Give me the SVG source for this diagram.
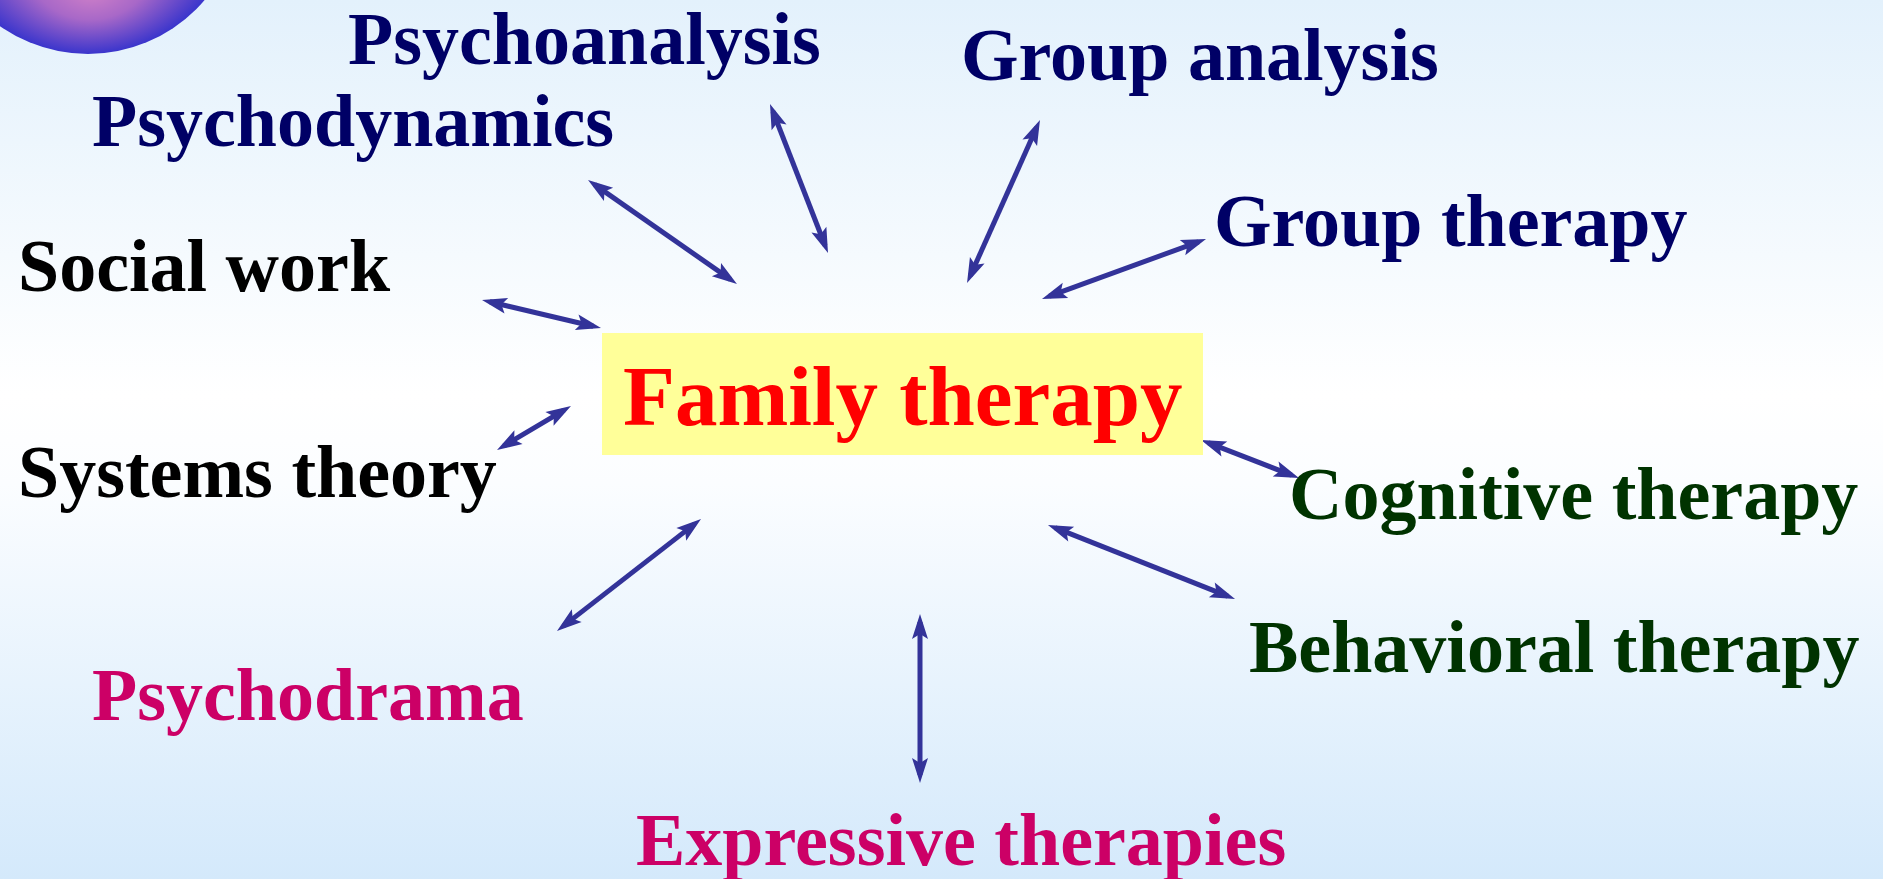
<svg xmlns="http://www.w3.org/2000/svg" width="1883" height="879" viewBox="0 0 1883 879">
  <defs>
    <linearGradient id="bg" x1="0" y1="0" x2="0" y2="1">
      <stop offset="0" stop-color="#E3F1FC"/>
      <stop offset="0.45" stop-color="#FFFFFF"/>
      <stop offset="0.55" stop-color="#FBFDFF"/>
      <stop offset="1" stop-color="#D4E9FB"/>
    </linearGradient>
    <radialGradient id="ball" cx="88" cy="-99" r="153" fx="92" fy="-8" gradientUnits="userSpaceOnUse">
      <stop offset="0" stop-color="#D080C8"/>
      <stop offset="0.45" stop-color="#A868C8"/>
      <stop offset="1" stop-color="#3A35CC"/>
    </radialGradient>
    <marker id="ah" markerUnits="userSpaceOnUse" markerWidth="32" markerHeight="24" viewBox="-28 -12 32 24" refX="-8" refY="0" orient="auto-start-reverse">
      <path d="M0,0 L-25,-8 L-20,0 L-25,8 Z" fill="#333399"/>
    </marker>
    <style>
      .lbl { font-family: "Liberation Serif", "Times New Roman", serif; font-weight: bold; font-size: 74px; }
      .navy { fill: #000066; }
      .black { fill: #000000; }
      .green { fill: #003300; }
      .mag { fill: #CC0066; }
      .conn { stroke: #333399; stroke-width: 5; fill: none; marker-start: url(#ah); marker-end: url(#ah); }
    </style>
  </defs>

  <rect x="0" y="0" width="1883" height="879" fill="url(#bg)"/>
  <circle cx="88" cy="-99" r="153" fill="url(#ball)"/>

  <g id="connectors">
    <line class="conn" x1="594.6" y1="184.6" x2="730.4" y2="279.4"/>
    <line class="conn" x1="772.9" y1="111.5" x2="825.1" y2="245.5"/>
    <line class="conn" x1="1036.7" y1="127.3" x2="970.3" y2="275.7"/>
    <line class="conn" x1="1198.5" y1="241.8" x2="1049.5" y2="296.2"/>
    <line class="conn" x1="489.8" y1="301.8" x2="593.2" y2="326.2"/>
    <line class="conn" x1="564.1" y1="410.1" x2="503.9" y2="445.9"/>
    <line class="conn" x1="1208.5" y1="442.9" x2="1291.5" y2="475.1"/>
    <line class="conn" x1="1055.4" y1="527.9" x2="1227.6" y2="596.1"/>
    <line class="conn" x1="694.7" y1="523.9" x2="563.3" y2="626.1"/>
    <line class="conn" x1="920" y1="622" x2="920" y2="775"/>
  </g>

  <g id="family-therapy">
    <rect x="602" y="333" width="601" height="122" fill="#FFFF99"/>
    <text x="623" y="425" font-family="Liberation Serif, Times New Roman, serif" font-weight="bold" font-size="85" fill="#FF0000">Family therapy</text>
  </g>
  <g id="psychoanalysis"><text class="lbl navy" x="348" y="64">Psychoanalysis</text></g>
  <g id="group-analysis"><text class="lbl navy" x="961" y="80">Group analysis</text></g>
  <g id="psychodynamics"><text class="lbl navy" x="92" y="146">Psychodynamics</text></g>
  <g id="group-therapy"><text class="lbl navy" x="1214" y="246">Group therapy</text></g>
  <g id="social-work"><text class="lbl black" x="18" y="291">Social work</text></g>
  <g id="systems-theory"><text class="lbl black" x="18" y="497">Systems theory</text></g>
  <g id="cognitive-therapy"><text class="lbl green" x="1289" y="519">Cognitive therapy</text></g>
  <g id="behavioral-therapy"><text class="lbl green" x="1249" y="672">Behavioral therapy</text></g>
  <g id="psychodrama"><text class="lbl mag" x="92" y="720">Psychodrama</text></g>
  <g id="expressive-therapies"><text class="lbl mag" x="636" y="865">Expressive therapies</text></g>
</svg>
